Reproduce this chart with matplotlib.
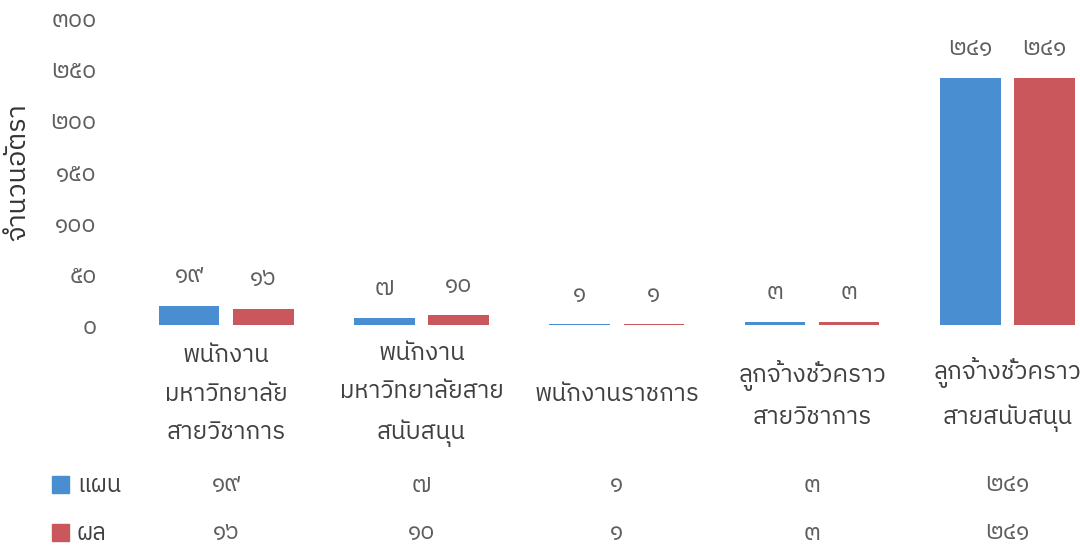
import matplotlib
matplotlib.use("Agg")
import matplotlib.pyplot as plt
import numpy as np
from matplotlib import font_manager
from matplotlib.ft2font import FT2Font

# categories and values
categories = [
    "พนักงาน\nมหาวิทยาลัย\nสายวิชาการ",
    "พนักงาน\nมหาวิทยาลัยสาย\nสนับสนุน",
    "พนักงานราชการ",
    "ลูกจ้างชั่วคราว\nสายวิชาการ",
    "ลูกจ้างชั่วคราว\nสายสนับสนุน",
]
plan = [19, 7, 1, 3, 241]
result = [16, 10, 1, 3, 241]
series_names = ["แผน", "ผล"]
y_ticks = [0, 50, 100, 150, 200, 250, 300]
y_label = "จำนวนอัตรา"

blue = "#4A8ED2"
red = "#C9575C"
gray = "#5E5E5E"
dark = "#404040"

# find an installed font that has Thai glyphs
thai_font = None
for f in font_manager.fontManager.ttflist:
    try:
        if 0x0E01 in FT2Font(f.fname).get_charmap():
            thai_font = f.name
            if "Sans" in f.name:
                break
    except Exception:
        pass
fams = [thai_font, "DejaVu Sans"] if thai_font else ["DejaVu Sans"]
plt.rcParams["font.family"] = fams

thai_digits = str.maketrans("0123456789", "๐๑๒๓๔๕๖๗๘๙")


def th(n):
    return str(n).translate(thai_digits)


fig = plt.figure(figsize=(10.8, 5.48), dpi=100)
# axes run past the right edge like the cropped reference
ax = fig.add_axes([128.5 / 1080, 1 - 325 / 548, 976.5 / 1080, 307 / 548])

x = np.arange(len(categories))
w = 0.31
off = 0.19
ax.bar(x - off, plan, w, color=blue)
ax.bar(x + off, result, w, color=red)

for i in range(len(categories)):
    ax.text(x[i] - off, plan[i] + 29, th(plan[i]), ha="center", va="center",
            fontsize=17, color=gray)
    ax.text(x[i] + off, result[i] + 29, th(result[i]), ha="center", va="center",
            fontsize=17, color=gray)

ax.set_xlim(-0.5, len(categories) - 0.5)
ax.set_ylim(0, 300)
ax.set_yticks(y_ticks)
ax.set_yticklabels([th(t) for t in y_ticks], fontsize=17, color=gray)
ax.tick_params(axis="y", length=0, pad=23)
ax.tick_params(axis="x", length=0)
ax.set_xticks([])
for s in ax.spines.values():
    s.set_visible(False)

fig.text(18 / 1080, 1 - 172 / 548, y_label, rotation=90, ha="center", va="center",
         fontsize=19.5, color="#333333")

# category labels under the bars
tr = ax.get_xaxis_transform()
for i, c in enumerate(categories):
    ax.text(x[i], -0.225, c, transform=tr, ha="center", va="center",
            fontsize=17.5, color=dark, linespacing=1.84)

# data table rows below
rows = [plan, result]
row_y = [1 - 485 / 548, 1 - 533 / 548]
colors = [blue, red]
for r in range(2):
    fig.patches.append(plt.Rectangle((52 / 1080, row_y[r] - 8 / 548), 17 / 1080, 17 / 548,
                                     transform=fig.transFigure, color=colors[r]))
    fig.text(77 / 1080, row_y[r], series_names[r], ha="left", va="center",
             fontsize=17, color=dark)
    for i in range(len(categories)):
        xf = (128.5 + (i + 0.5) * 195.3) / 1080
        fig.text(xf, row_y[r], th(rows[r][i]), ha="center", va="center",
                 fontsize=17, color=gray)

fig.savefig("out.png", dpi=100)
